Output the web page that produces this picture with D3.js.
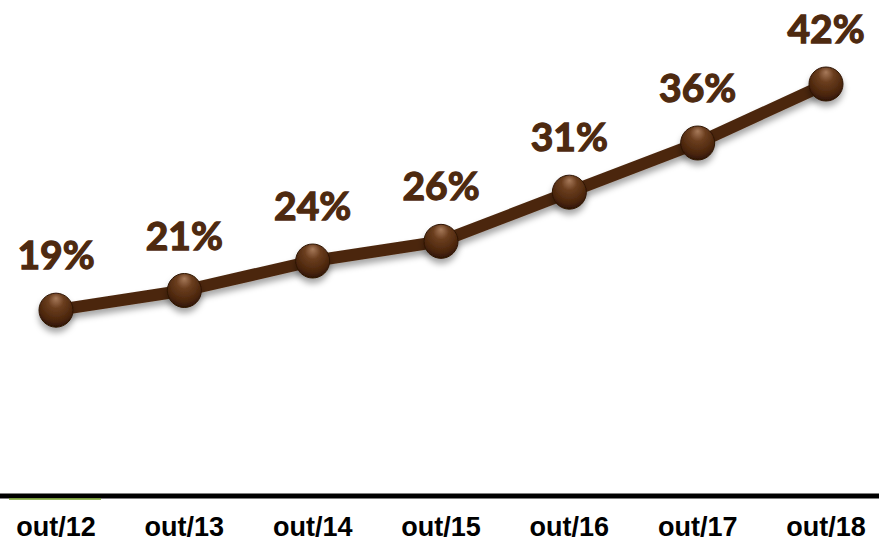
<!DOCTYPE html>
<html>
<head>
<meta charset="utf-8">
<script src="https://cdn.jsdelivr.net/npm/d3@7"></script>
<style>
  body { margin: 0; background: #fff; }
  .lab { font-family: Lato, "Open Sans", sans-serif; font-weight: 700; fill: #4e2a10; stroke: #4e2a10; stroke-width: 1.3px; }
  .tick { font-family: "Liberation Sans Narrow", "Arial Narrow", "Liberation Sans", sans-serif; font-weight: 700; fill: #000; }
</style>
</head>
<body>
<div id="plot"></div>
<script>
const months = ["out/12", "out/13", "out/14", "out/15", "out/16", "out/17", "out/18"],
      values = [19, 21, 24, 26, 31, 36, 42]

const w = 879, h = 543,
    margin = {top: 84, right: 53, bottom: 46, left: 56},
    x = d3.scalePoint()
      .domain(months)
      .range([margin.left, w - margin.right]),
    y = d3.scaleLinear()
      .domain([0, 42])
      .range([h - margin.bottom, margin.top])

const svg = d3.select("#plot").append("svg")
  .attr("width", w)
  .attr("height", h)

const defs = svg.append("defs")

// ball look for the markers
const grad = defs.append("radialGradient")
  .attr("id", "ball")
  .attr("cx", "50%").attr("cy", "35%").attr("r", "65%")
  .attr("fx", "50%").attr("fy", "15%")
grad.append("stop").attr("offset", "0%").attr("stop-color", "#a77a5a")
grad.append("stop").attr("offset", "35%").attr("stop-color", "#6b3e1f")
grad.append("stop").attr("offset", "80%").attr("stop-color", "#4a250b")
grad.append("stop").attr("offset", "100%").attr("stop-color", "#2e1405")

const shadow = defs.append("filter")
  .attr("id", "shadow")
  .attr("x", "-50%").attr("y", "-50%").attr("width", "200%").attr("height", "200%")
shadow.append("feDropShadow")
  .attr("dx", 0).attr("dy", 5)
  .attr("stdDeviation", 3)
  .attr("flood-color", "#000")
  .attr("flood-opacity", 0.35)

// axis line
svg.append("line")
  .attr("x1", 0).attr("x2", w)
  .attr("y1", y(0) - 1).attr("y2", y(0) - 1)
  .attr("stroke", "#000")
  .attr("stroke-width", 5)
svg.append("line")
  .attr("x1", 9).attr("x2", 101)
  .attr("y1", y(0) + 2).attr("y2", y(0) + 2)
  .attr("stroke", "#76a22a")
  .attr("stroke-width", 1.5)

svg.selectAll(".tick")
  .data(months)
  .join("text")
  .attr("class", "tick")
  .attr("x", d => x(d))
  .attr("y", h - 7)
  .attr("text-anchor", "middle")
  .style("font-size", "27px")
  .text(d => d)

const data = months.map((m, i) => ({m: m, v: values[i]}))

svg.append("path")
  .datum(data)
  .attr("fill", "none")
  .attr("stroke", "#4b260c")
  .attr("stroke-width", 12)
  .attr("stroke-linejoin", "round")
  .attr("filter", "url(#shadow)")
  .attr("d", d3.line().x(d => x(d.m)).y(d => y(d.v)))

svg.selectAll(".dot")
  .data(data)
  .join("circle")
  .attr("class", "dot")
  .attr("cx", d => x(d.m))
  .attr("cy", d => y(d.v))
  .attr("r", 17)
  .attr("fill", "url(#ball)")
  .attr("stroke", "#2e1405")
  .attr("stroke-width", 1)
  .attr("filter", "url(#shadow)")

svg.selectAll(".lab")
  .data(data)
  .join("text")
  .attr("class", "lab")
  .attr("x", d => x(d.m))
  .attr("y", d => y(d.v) - 41)
  .attr("text-anchor", "middle")
  .style("font-size", "39px")
  .text(d => d.v + "%")
</script>
</body>
</html>
